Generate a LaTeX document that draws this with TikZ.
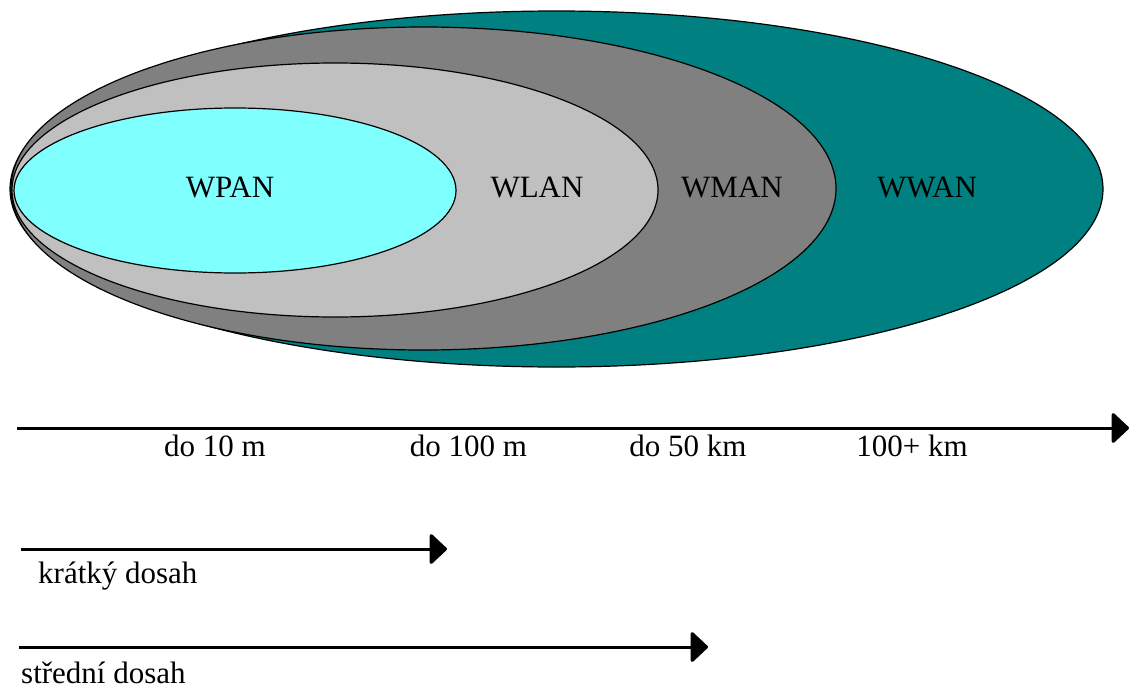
\documentclass[tikz,border=0pt]{standalone}
\usepackage{fontspec}
\setmainfont{Liberation Serif}
\usetikzlibrary{arrows.meta}
\definecolor{wwan}{HTML}{008080}
\definecolor{wman}{HTML}{808080}
\definecolor{wlan}{HTML}{C0C0C0}
\definecolor{wpan}{HTML}{80FFFF}
\tikzset{
  zone/.style={draw=black, line width=1.2pt},
  lbl/.style={inner sep=0pt, anchor=base, font=\fontsize{31}{36}\selectfont},
  lblw/.style={lbl, anchor=base west},
  rangearrow/.style={line width=3pt, -{Triangle[length=18pt,width=33pt,round]}}
}
\begin{document}
\begin{tikzpicture}[x=1pt,y=-1pt]
\useasboundingbox (0,0) rectangle (1130,688);
% ellipses
\filldraw[zone, fill=wwan] (556.5,189) ellipse [x radius=546.5, y radius=178];
\filldraw[zone, fill=wman] (423.5,188.5) ellipse [x radius=412.5, y radius=161.5];
\filldraw[zone, fill=wlan] (335,190) ellipse [x radius=323, y radius=127];
\filldraw[zone, fill=wpan] (235,190.5) ellipse [x radius=221, y radius=82.5];
% zone labels
\node[lbl] (wpan) at (230,197) {WPAN};
\node[lbl] (wlan) at (537,197) {WLAN};
\node[lbl] (wman) at (732,197) {WMAN};
\node[lbl] (wwanl) at (927,197) {WWAN};
% main axis
\coordinate (axs) at (17,428);
\coordinate (axe) at (1129,428);
\draw[rangearrow] (axs) -- (axe);
\node[lbl] (r1) at (215,456) {do 10 m};
\node[lbl] (r2) at (468.5,456) {do 100 m};
\node[lbl] (r3) at (688,456) {do 50 km};
\node[lbl] (r4) at (912,456) {100+ km};
% short range
\coordinate (ks) at (21,549);
\coordinate (ke) at (447,549);
\draw[rangearrow] (ks) -- (ke);
\node[lblw] (kd) at (38,583) {krátký dosah};
% medium range
\coordinate (ss) at (19,647);
\coordinate (se) at (708,647);
\draw[rangearrow] (ss) -- (se);
\node[lblw] (sd) at (21,683) {střední dosah};
\end{tikzpicture}
\end{document}
